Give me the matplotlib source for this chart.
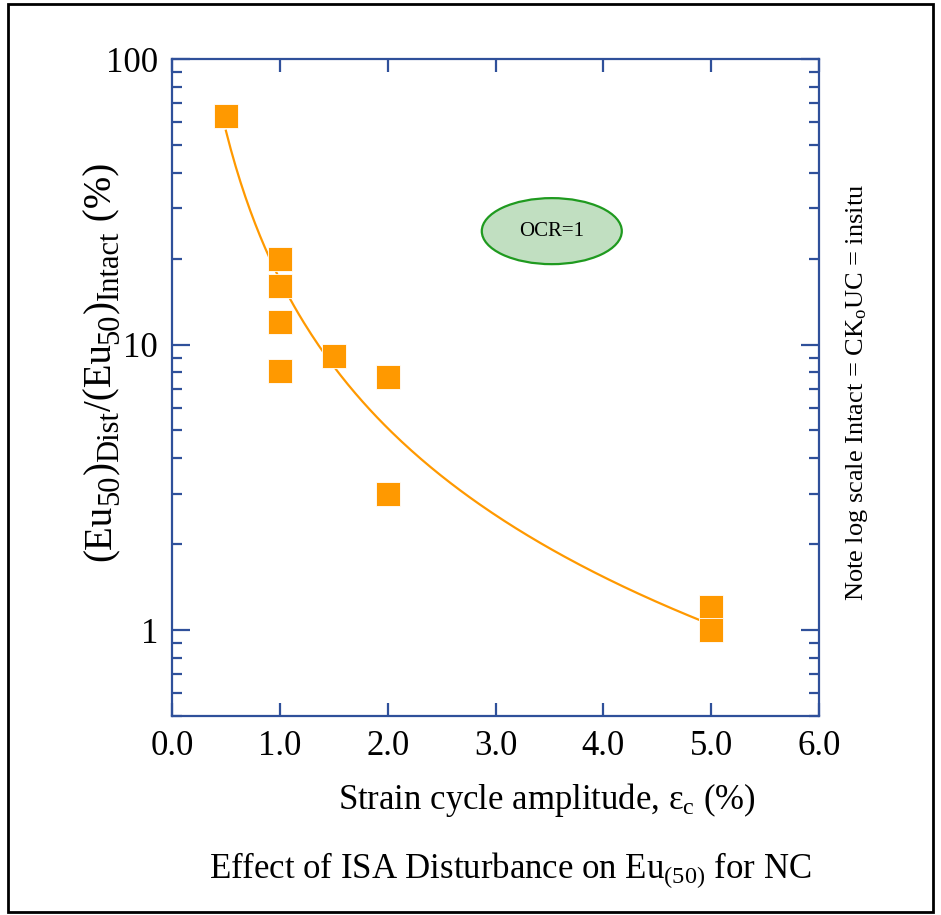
import numpy as np
import matplotlib
matplotlib.use('Agg')
import matplotlib.pyplot as plt
from matplotlib.patches import Ellipse, Rectangle
from matplotlib.ticker import FixedLocator, LogLocator, NullFormatter, FuncFormatter

plt.rcParams['font.family'] = ['Liberation Serif', 'DejaVu Serif']
plt.rcParams['mathtext.fontset'] = 'custom'
plt.rcParams['mathtext.rm'] = 'Liberation Serif'
plt.rcParams['mathtext.it'] = 'Liberation Serif:italic'
plt.rcParams['mathtext.default'] = 'rm'

# strain cycle amplitude (%) vs (Eu50)dist/(Eu50)intact (%)
strain = [0.5, 1.0, 1.0, 1.0, 1.0, 1.5, 2.0, 2.0, 5.0, 5.0]
eu_ratio = [63, 20, 16, 12, 8.1, 9.1, 7.7, 3.0, 1.2, 1.0]

# power trend line: y = a * x^b
trend_a = 16.9
trend_b = -1.73
trend_range = [0.5, 5.0]

x_ticks = [0, 1, 2, 3, 4, 5, 6]
y_ticks = [1, 10, 100]

# y label pieces: (text, is_subscript)
ylabel_parts = [('(Eu', False), ('50', True), (')', False), ('Dist', True),
                ('/(Eu', False), ('50', True), (')', False), ('Intact', True),
                (' (%)', False)]

axis_col = '#2f509a'
orange = '#ff9900'

fig = plt.figure(figsize=(9.41, 9.15), dpi=100)
ax = fig.add_axes([172 / 941, 1 - 716 / 915, 647 / 941, 657 / 915])

xs = np.linspace(trend_range[0], trend_range[1], 200)
ax.plot(xs, trend_a * xs ** trend_b, color=orange, lw=1.6, zorder=2)
ax.plot(strain, eu_ratio, 's', color=orange, ms=17.5, mec='white', mew=0.6, zorder=3)

ax.set_yscale('log')
ax.set_xlim(0, 6)
ax.set_ylim(0.5, 100)

ax.xaxis.set_major_locator(FixedLocator(x_ticks))
ax.xaxis.set_major_formatter(FuncFormatter(lambda v, p: '%.1f' % v))
ax.yaxis.set_major_locator(FixedLocator(y_ticks))
ax.yaxis.set_major_formatter(FuncFormatter(lambda v, p: '%g' % v))
ax.yaxis.set_minor_locator(LogLocator(base=10, subs=np.arange(2, 10)))
ax.yaxis.set_minor_formatter(NullFormatter())

for s in ax.spines.values():
    s.set_color(axis_col)
    s.set_linewidth(1.6)
ax.tick_params(axis='both', which='both', direction='in', color=axis_col,
               width=1.6, top=True, right=True, labelsize=25, labelcolor='black')
ax.tick_params(axis='x', which='major', length=9.5, pad=10)
ax.tick_params(axis='y', which='major', length=13, pad=10)
ax.tick_params(axis='y', which='minor', length=7)

ell = Ellipse((0.587, 0.738), 0.2164, 0.1005, transform=ax.transAxes,
              facecolor='#c1dfc1', edgecolor='#1f9a1f', lw=1.6, zorder=1)
ax.add_patch(ell)
ax.text(0.587, 0.738, 'OCR=1', transform=ax.transAxes, ha='center', va='center',
        fontsize=15, zorder=4)

# y label built from pieces so the subscripts can be larger than mathtext's
renderer = fig.canvas.get_renderer()
W, H = fig.get_size_inches() * fig.dpi
ypos = 561.0  # px from top, where the label starts
base_x = 111.0
for txt, sub in ylabel_parts:
    size = 22 if sub else 28
    t = fig.text(0, 0, txt, fontsize=size)
    w = t.get_window_extent(renderer).width
    t.remove()
    bx = base_x + (7 if sub else 0)
    fig.text(bx / W, 1 - ypos / H, txt, fontsize=size, rotation=90,
             rotation_mode='anchor', ha='left', va='baseline')
    ypos -= w

fig.text(547 / 941, 1 - 800 / 915, r'Strain cycle amplitude, ε$_{c}$ (%)',
         ha='center', va='center', fontsize=25)
fig.text(510 / 941, 1 - 870 / 915, r'Effect of ISA Disturbance on Eu$_{(50)}$ for NC',
         ha='center', va='center', fontsize=25)
fig.text(857 / 941, 1 - 392 / 915, r'Note log scale Intact = CK$_{o}$UC = insitu',
         rotation=90, ha='center', va='center', fontsize=19)

fig.patches.append(Rectangle((8 / 941, 1 - 912 / 915), 925 / 941, 908 / 915,
                             transform=fig.transFigure, fill=False,
                             edgecolor='black', lw=2))

fig.savefig('out.png', dpi=100)
